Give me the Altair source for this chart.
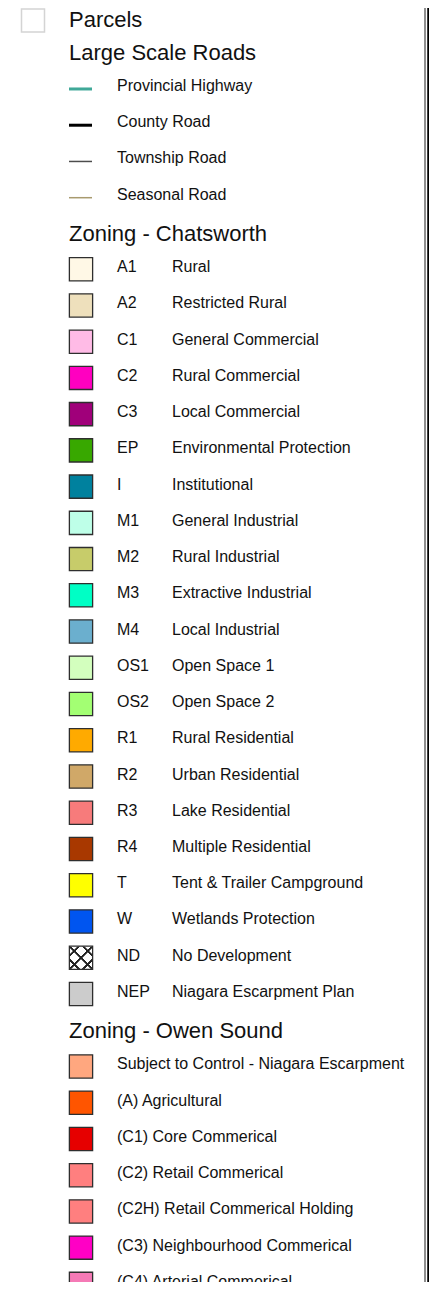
import altair as alt
import pandas as pd

# ---------------- data ----------------
PARCELS = "Parcels"
HEADERS = ["Large Scale Roads", "Zoning - Chatsworth", "Zoning - Owen Sound"]

ROAD_NAMES = ["Provincial Highway", "County Road", "Township Road", "Seasonal Road"]
ROAD_COLORS = ["#3FA898", "#000000", "#4D4D4D", "#A89A6E"]

CH_CODES = ["A1", "A2", "C1", "C2", "C3", "EP", "I", "M1", "M2", "M3", "M4",
            "OS1", "OS2", "R1", "R2", "R3", "R4", "T", "W", "ND", "NEP"]
CH_NAMES = ["Rural", "Restricted Rural", "General Commercial", "Rural Commercial",
            "Local Commercial", "Environmental Protection", "Institutional",
            "General Industrial", "Rural Industrial", "Extractive Industrial",
            "Local Industrial", "Open Space 1", "Open Space 2", "Rural Residential",
            "Urban Residential", "Lake Residential", "Multiple Residential",
            "Tent & Trailer Campground", "Wetlands Protection", "No Development",
            "Niagara Escarpment Plan"]
CH_COLORS = ["#FFF8E6", "#EEE0BC", "#FFBBE6", "#FF00C0", "#A0007A", "#38A800",
             "#00819E", "#BEFFE8", "#C7CC6A", "#00FFC5", "#6BAFCE", "#D3FFBE",
             "#A3FF73", "#FFAA00", "#D0A868", "#F77B7B", "#A83800", "#FFFF00",
             "#0055F0", "#FFFFFF", "#CCCCCC"]

OS_NAMES = ["Subject to Control - Niagara Escarpment Plan", "(A) Agricultural",
            "(C1) Core Commerical", "(C2) Retail Commerical",
            "(C2H) Retail Commerical Holding", "(C3) Neighbourhood Commerical",
            "(C4) Arterial Commerical"]
OS_COLORS = ["#FFA77F", "#FF5500", "#E60000", "#FF7F7F", "#FF7F7F", "#FF00C5", "#F57AB6"]

# ---------------- styles ----------------
ROAD_WIDTHS = [3, 3, 1.5, 1.5]
FONT = "Liberation Sans"
TXT = "#111111"
W, H = 421, 1274

# ---------------- build row tables (slot = row order) ----------------
slot = 0
parcel_rows = [{"label": PARCELS, "slot": slot}]
slot += 1
head_rows = [{"label": HEADERS[0], "slot": slot}]
slot += 1
road_rows = []
for n, c, w in zip(ROAD_NAMES, ROAD_COLORS, ROAD_WIDTHS):
    road_rows.append({"name": n, "color": c, "w": w, "slot": slot})
    slot += 1
head_rows.append({"label": HEADERS[1], "slot": slot})
slot += 1
ch_rows = []
for code, n, c in zip(CH_CODES, CH_NAMES, CH_COLORS):
    ch_rows.append({"code": code, "name": n, "color": c, "slot": slot})
    slot += 1
head_rows.append({"label": HEADERS[2], "slot": slot})
slot += 1
os_rows = []
for n, c in zip(OS_NAMES, OS_COLORS):
    os_rows.append({"name": n, "color": c, "slot": slot})
    slot += 1

parcel_df = pd.DataFrame(parcel_rows)
head_df = pd.DataFrame(head_rows)
road_df = pd.DataFrame(road_rows)
ch_df = pd.DataFrame(ch_rows)
os_df = pd.DataFrame(os_rows)
sq_df = pd.concat([ch_df[["color", "slot"]], os_df[["color", "slot"]]], ignore_index=True)
nd_df = ch_df[ch_df["code"] == "ND"]
frame_df = pd.DataFrame({"k": [0]})

yenc = alt.Y("slot:Q", axis=None,
             scale=alt.Scale(domain=[-0.1518, 35.003], reverse=True, nice=False, zero=False))

parcel_box = alt.Chart(parcel_df).mark_square(
    size=529, fill="white", stroke="#D4D4D4", strokeWidth=1.5, opacity=1, yOffset=7
).encode(x=alt.value(25), y=yenc)

parcel_txt = alt.Chart(parcel_df).mark_text(
    align="left", baseline="middle", font=FONT, fontSize=22, color=TXT, dy=6
).encode(x=alt.value(61), y=yenc, text="label:N")

head_txt = alt.Chart(head_df).mark_text(
    align="left", baseline="middle", font=FONT, fontSize=22, color=TXT, dy=3
).encode(x=alt.value(61), y=yenc, text="label:N")

road_lines = alt.Chart(road_df).mark_rule(yOffset=3).encode(
    x=alt.value(61), x2=alt.value(84), y=yenc,
    color=alt.Color("color:N", scale=None),
    strokeWidth=alt.StrokeWidth("w:Q", scale=None),
)

road_txt = alt.Chart(road_df).mark_text(
    align="left", baseline="middle", font=FONT, fontSize=16, color=TXT
).encode(x=alt.value(109), y=yenc, text="name:N")

squares = alt.Chart(sq_df).mark_square(
    size=540, stroke="#2E2E2E", strokeWidth=1.3, opacity=1, yOffset=2
).encode(x=alt.value(73), y=yenc, fill=alt.Fill("color:N", scale=None))


def stripes(x1, y1, x2, y2):
    stops = [alt.GradientStop(offset=0, color="rgba(0,0,0,0)")]
    for c in [0.2, 0.5, 0.8]:
        stops += [alt.GradientStop(offset=c - 0.035, color="rgba(0,0,0,0)"),
                  alt.GradientStop(offset=c - 0.025, color="#222222"),
                  alt.GradientStop(offset=c + 0.025, color="#222222"),
                  alt.GradientStop(offset=c + 0.035, color="rgba(0,0,0,0)")]
    stops.append(alt.GradientStop(offset=1, color="rgba(0,0,0,0)"))
    return alt.LinearGradient(gradient="linear", stops=stops, x1=x1, y1=y1, x2=x2, y2=y2)


nd1 = alt.Chart(nd_df).mark_square(size=500, fill=stripes(0, 0, 1, 1), opacity=1, yOffset=2).encode(
    x=alt.value(73), y=yenc)
nd2 = alt.Chart(nd_df).mark_square(size=500, fill=stripes(1, 0, 0, 1), opacity=1, yOffset=2).encode(
    x=alt.value(73), y=yenc)

code_txt = alt.Chart(ch_df).mark_text(
    align="left", baseline="middle", font=FONT, fontSize=16, color=TXT
).encode(x=alt.value(109), y=yenc, text="code:N")

desc_txt = alt.Chart(ch_df).mark_text(
    align="left", baseline="middle", font=FONT, fontSize=16, color=TXT
).encode(x=alt.value(164), y=yenc, text="name:N")

os_txt = alt.Chart(os_df).mark_text(
    align="left", baseline="middle", font=FONT, fontSize=16, color=TXT, limit=300, ellipsis=" "
).encode(x=alt.value(109), y=yenc, text="name:N")

frame_gray = alt.Chart(frame_df).mark_rule(color="#6A6A6A", strokeWidth=1.5).encode(
    x=alt.value(417), y=alt.value(0), y2=alt.value(H))
frame_black = alt.Chart(frame_df).mark_rule(color="#000000", strokeWidth=2.5).encode(
    x=alt.value(420.5), y=alt.value(0), y2=alt.value(H))

chart = alt.layer(
    parcel_box, parcel_txt, head_txt, road_lines, road_txt, squares, nd1, nd2,
    code_txt, desc_txt, os_txt, frame_gray, frame_black
).properties(
    width=W, height=H, padding=0, autosize=alt.AutoSizeParams(type="none"),
    background="white"
).configure_view(strokeWidth=0)

chart.save("out.html", embed_options={"renderer": "svg", "actions": False})
